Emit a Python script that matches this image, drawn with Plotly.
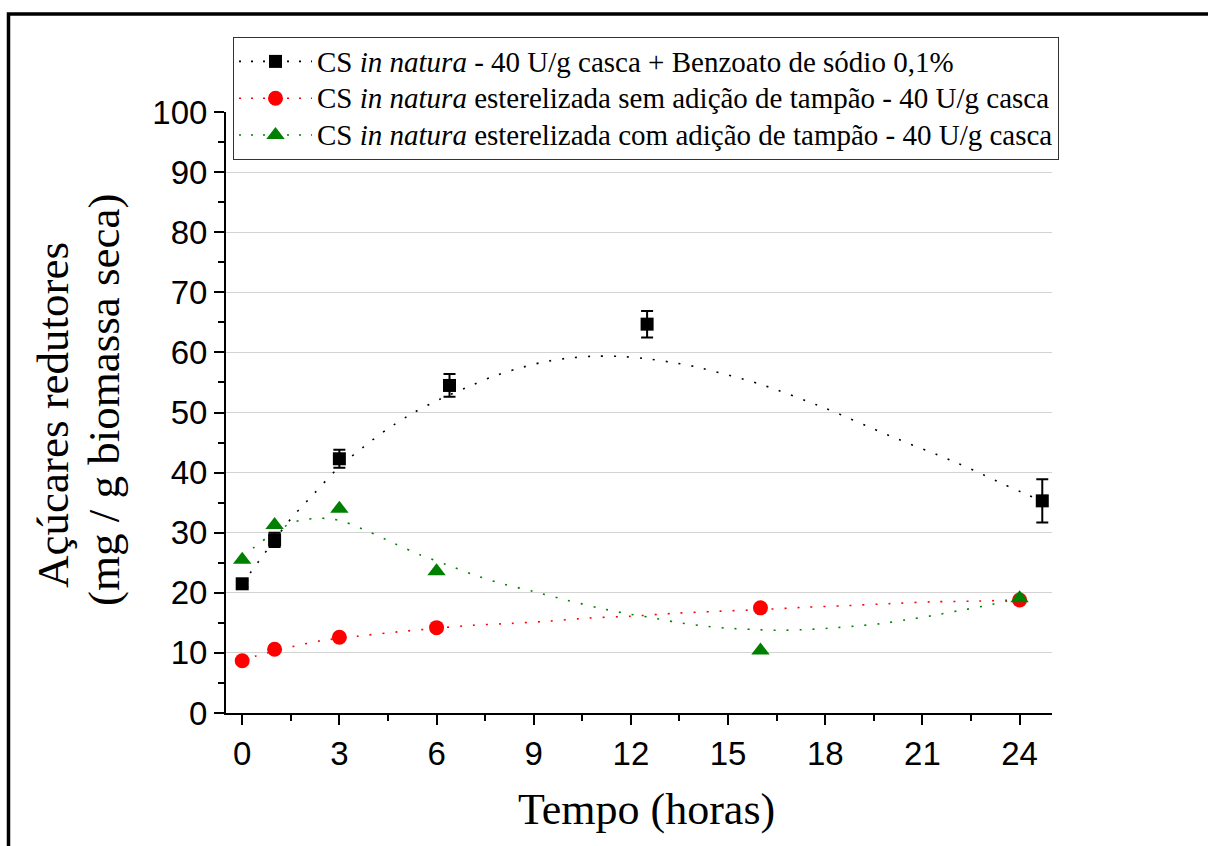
import plotly.graph_objects as go

t_black = [0, 1, 3, 6.4, 12.5, 24.7]
y_black = [21.5, 28.8, 42.3, 54.5, 64.7, 35.3]
e_black = [0.5, 1.2, 1.5, 1.9, 2.2, 3.6]

t_red = [0, 1, 3, 6, 16, 24]
y_red = [8.7, 10.6, 12.6, 14.2, 17.5, 18.8]

t_green = [0, 1, 3, 6, 16, 24]
y_green = [25.5, 31.3, 34.0, 23.6, 10.4, 19.1]

# ---- fitted (dotted) curves ----
fit_black_t = [0, 0.3, 0.6, 1.5, 2.2, 2.95, 3.75, 4.5, 5.3, 6.1, 6.9, 7.7, 8.5, 9.3, 10.0,
               10.8, 11.6, 12.4, 13.2, 14.0, 16, 18, 20, 21.9, 22.7, 23.45, 24.25, 24.7]
fit_black_v = [21.5, 23.7, 25.9, 32.3, 36.4, 40.7, 44.3, 47.3, 50.0, 52.2, 54.1, 55.9, 57.3, 58.4, 59.0,
               59.35, 59.35, 59.0, 58.4, 57.6, 54.7, 50.7, 46.1, 42.0, 40.1, 38.2, 36.3, 35.2]

fit_red_t = [0, 0.43, 1.6, 2.4, 3.6, 4.8, 6.0, 7.1, 8.3, 9.5, 10.7, 12.0, 13.4, 14.6, 16.0,
             17.4, 18.6, 20.0, 21.3, 22.5, 24]
fit_red_v = [8.8, 9.5, 11.1, 12.0, 12.8, 13.5, 14.1, 14.6, 14.9, 15.3, 15.8, 16.1, 16.6, 16.9, 17.2,
             17.6, 17.85, 18.2, 18.5, 18.6, 18.8]

fit_green_t = [0, 0.4, 0.8, 1.55, 1.95, 2.35, 2.75, 3.15, 3.9, 4.7, 5.5, 6.3, 7.1, 7.9, 9.0, 10.0,
               11.0, 11.8, 12.6, 13.4, 14.2, 15.0, 15.8, 16.5, 17.3, 18.1, 18.9, 19.7, 20.5,
               21.3, 22.1, 22.9, 23.6, 24]
fit_green_v = [26.1, 27.7, 29.3, 31.7, 32.2, 32.4, 32.3, 31.8, 30.2, 28.2, 26.3, 24.7, 23.1, 21.7, 20.2, 18.8,
               17.5, 16.6, 15.9, 15.1, 14.5, 14.1, 13.9, 13.76, 13.86, 14.1, 14.45, 14.85, 15.5,
               16.2, 17.0, 17.8, 18.6, 19.0]

names = [
    "CS <i>in natura</i> - 40 U/g casca + Benzoato de sódio 0,1%",
    "CS <i>in natura</i> esterelizada sem adição de tampão - 40 U/g casca",
    "CS <i>in natura</i> esterelizada com adição de tampão - 40 U/g casca",
]
colors = ["black", "#ff0000", "#008000"]
symbols = ["square", "circle", "triangle-up"]
msizes = [13, 15, 16]

W, H = 1208, 846
L, R, T, B = 226, 156, 112, 133
pw, ph = W - L - R, H - T - B


def px2paper(px, py):
    return (px - L) / pw, 1 - (py - T) / ph


SERIF = "Liberation Serif, Times New Roman, Times, serif"
SANS = "Liberation Sans, Arial, Helvetica, sans-serif"
dash = "2px,11px"

fig = go.Figure()
fits = [(fit_black_t, fit_black_v), (fit_red_t, fit_red_v), (fit_green_t, fit_green_v)]
pts = [(t_black, y_black, e_black), (t_red, y_red, None), (t_green, y_green, None)]

for i in range(3):
    ft, fv = fits[i]
    fig.add_trace(go.Scatter(x=ft, y=fv, mode="lines", showlegend=False, hoverinfo="skip",
                             line=dict(color=colors[i], width=1.6, dash=dash, shape="spline", smoothing=0.8)))
for i in range(3):
    tx, ty, te = pts[i]
    err = None
    if te is not None:
        err = dict(type="data", array=te, visible=True, color="black", thickness=2, width=6)
    fig.add_trace(go.Scatter(x=tx, y=ty, mode="markers", showlegend=False,
                             marker=dict(symbol=symbols[i], size=msizes[i], color=colors[i]),
                             error_y=err))
# legend entries (dotted line + marker glyph)
for i in range(3):
    fig.add_trace(go.Scatter(x=[None], y=[None], mode="lines+markers",
                             name='<span style="font-size:29px">' + names[i] + "</span>",
                             line=dict(color=colors[i], width=1.6, dash="2px,10px"),
                             marker=dict(symbol=symbols[i], size=msizes[i], color=colors[i])))

tickfont = dict(family=SANS, size=33, color="black")
fig.update_xaxes(range=[-0.5, 25], tickmode="linear", tick0=0, dtick=3,
                 showline=True, linecolor="black", linewidth=2,
                 ticks="outside", ticklen=10, tickwidth=2, tickcolor="black",
                 minor=dict(ticks="outside", ticklen=6, tickwidth=2, tickcolor="black",
                            dtick=1.5, tick0=0, showgrid=False),
                 showgrid=False, zeroline=False, tickfont=tickfont)
fig.update_yaxes(range=[0, 100], tickmode="linear", tick0=0, dtick=10,
                 showline=True, linecolor="black", linewidth=2,
                 ticks="outside", ticklen=10, tickwidth=2, tickcolor="black",
                 minor=dict(ticks="outside", ticklen=6, tickwidth=2, tickcolor="black",
                            dtick=5, tick0=0, showgrid=False),
                 showgrid=True, gridcolor="#d3d3d3", gridwidth=1, zeroline=False, tickfont=tickfont)

# x-axis title
xa, ya = px2paper(646, 809)
fig.add_annotation(text="Tempo (horas)", xref="paper", yref="paper", x=xa, y=ya, showarrow=False,
                   xanchor="center", yanchor="middle",
                   font=dict(family=SERIF, size=44, color="black"))

# y-axis title as two rotated lines
ytitle = ["Açúcares redutores", "(mg / g biomassa seca)"]
ytitle_px = [(53, 415), (104, 400)]
for txt, (xp, yp) in zip(ytitle, ytitle_px):
    ax_, ay_ = px2paper(xp, yp)
    fig.add_annotation(text=txt, xref="paper", yref="paper", x=ax_, y=ay_, showarrow=False,
                       textangle=-90, xanchor="center", yanchor="middle",
                       font=dict(family=SERIF, size=45, color="black"))

lx, ly = px2paper(233, 37)
fig.update_layout(
    width=W, height=H,
    margin=dict(l=L, r=R, t=T, b=B, autoexpand=False),
    plot_bgcolor="white", paper_bgcolor="white",
    legend=dict(x=lx, y=ly, xanchor="left", yanchor="top",
                bgcolor="white", bordercolor="#333333", borderwidth=1,
                font=dict(family=SERIF, size=26, color="black"),
                itemwidth=73, tracegroupgap=0),
)

# outer frame
x0, y0 = px2paper(8.5, 14)
x1, y1 = px2paper(1220, 860)
fig.add_shape(type="rect", xref="paper", yref="paper", x0=x0, y0=y1, x1=x1, y1=y0,
              line=dict(color="black", width=3.5), layer="above")

fig.write_html("out.html")
